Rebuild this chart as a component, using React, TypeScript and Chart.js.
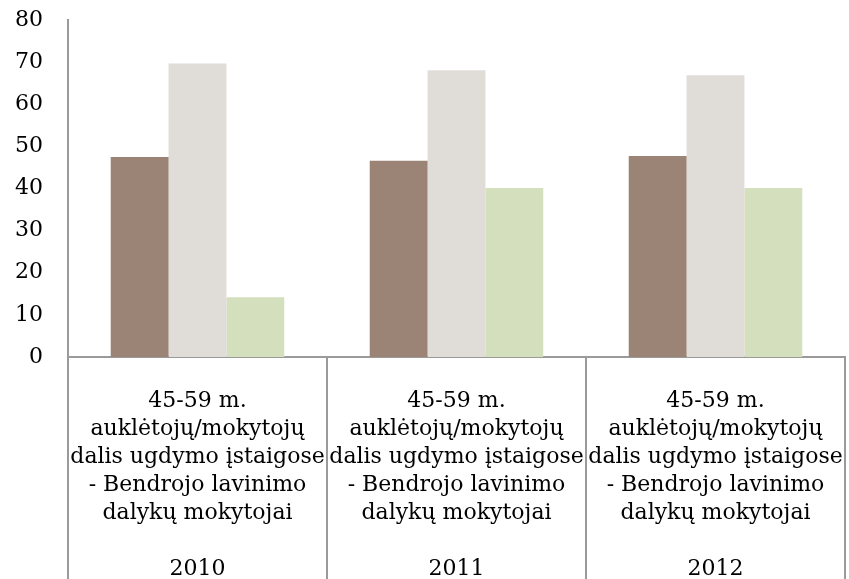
import React, { useEffect, useRef } from "react";
import { Chart, registerables } from "chart.js";

Chart.register(...registerables);

const years = ["2010", "2011", "2012"];
const categoryLines = [
  "45-59 m.",
  "auklėtojų/mokytojų",
  "dalis ugdymo įstaigose",
  "- Bendrojo lavinimo",
  "dalykų mokytojai",
];
const seriesA = [47.5, 46.6, 47.7];
const seriesB = [69.7, 68.1, 66.9];
const seriesC = [14.2, 40.1, 40.1];
const yTicks = [0, 10, 20, 30, 40, 50, 60, 70, 80];

const FONT = "'DejaVu Serif', serif";
const AXIS_COLOR = "#9a9a9a";

const separatorPlugin = {
  id: "separators",
  afterDraw(chart: any) {
    const x = chart.scales.x;
    const ctx = chart.ctx;
    const n = chart.data.labels.length;
    const w = (x.right - x.left) / n;
    ctx.save();
    ctx.strokeStyle = AXIS_COLOR;
    ctx.lineWidth = 2;
    for (let i = 0; i <= n; i++) {
      const px = Math.round(x.left + i * w);
      ctx.beginPath();
      ctx.moveTo(px, x.top);
      ctx.lineTo(px, chart.height);
      ctx.stroke();
    }
    ctx.restore();
  },
};

export default function App() {
  const ref = useRef<HTMLCanvasElement>(null);
  useEffect(() => {
    document.body.style.margin = "0";
    const labels = years.map((y) => [...categoryLines, "", y]);
    const chart = new Chart(ref.current!, {
      type: "bar",
      data: {
        labels,
        datasets: [
          { data: seriesA, backgroundColor: "#9b8476" },
          { data: seriesB, backgroundColor: "#e0dcd8" },
          { data: seriesC, backgroundColor: "#d4dfbe" },
        ],
      },
      options: {
        animation: false,
        responsive: false,
        maintainAspectRatio: false,
        layout: { padding: { top: 20, right: 4, left: 0, bottom: 0 } },
        plugins: { legend: { display: false }, tooltip: { enabled: false } },
        datasets: { bar: { categoryPercentage: 0.67, barPercentage: 1 } },
        scales: {
          x: {
            grid: { display: false, drawTicks: false },
            border: { display: true, color: AXIS_COLOR, width: 2 },
            ticks: {
              autoSkip: false,
              maxRotation: 0,
              minRotation: 0,
              color: "#000",
              padding: 30,
              font: { family: FONT, size: 22, lineHeight: "28px" },
            },
            afterFit: (s: any) => {
              s.height = 222;
              s.paddingLeft = 0;
              s.paddingRight = 0;
            },
          },
          y: {
            min: 0,
            max: 80,
            afterBuildTicks: (s: any) => {
              s.ticks = yTicks.map((v) => ({ value: v }));
            },
            grid: { display: false, drawTicks: false },
            border: { display: true, color: AXIS_COLOR, width: 2 },
            ticks: {
              color: "#000",
              padding: 25,
              font: { family: FONT, size: 22 },
            },
            afterFit: (s: any) => {
              s.width = 68;
              s.paddingTop = 0;
              s.paddingBottom = 0;
            },
          },
        },
      },
      plugins: [separatorPlugin],
    });
    return () => chart.destroy();
  }, []);
  return <canvas ref={ref} width={849} height={579} style={{ display: "block" }} />;
}
